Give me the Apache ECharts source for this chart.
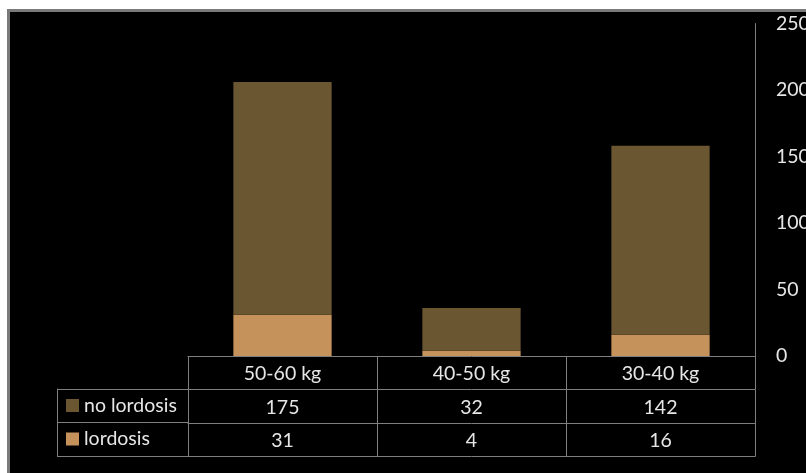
<!DOCTYPE html>
<html>
<head>
<meta charset="utf-8">
<script src="https://cdn.jsdelivr.net/npm/echarts@6/dist/echarts.min.js"></script>
<style>
  html, body { margin: 0; padding: 0; background: #ffffff; overflow: hidden; }
  #frame { position: absolute; left: 7px; top: 9px; width: 820px; height: 480px;
           background: #000; border-left: 3px solid #7a7a7a; border-top: 3px solid #7a7a7a; }
  #chart { position: absolute; left: 0; top: 0; width: 806px; height: 473px; }
</style>
</head>
<body>
<div id="frame"></div>
<div id="chart"></div>
<script>
const categories = ['50-60 kg', '40-50 kg', '30-40 kg'];
const lordosis = [31, 4, 16];
const noLordosis = [175, 32, 142];
const yTicks = { min: 0, max: 250, interval: 50 };

const FONT = 'Lato';
const TXT = '#e6e6e6';
const LINE = '#7f7f7f';
const C_LORD = '#c5925c';
const C_NOLORD = '#6b5632';

const chart = echarts.init(document.getElementById('chart'), null, { renderer: 'canvas' });

const tableAxis = (offset, rowValues, showTick) => ({
  type: 'category', gridIndex: 0, position: 'bottom', offset: offset,
  data: categories,
  axisLine: { show: true, lineStyle: { color: LINE, width: 1 } },
  axisTick: { show: showTick, length: 33.5, alignWithLabel: false, interval: 0, lineStyle: { color: LINE, width: 1 } },
  axisLabel: rowValues ? {
    show: true, interval: 0, margin: 8, color: TXT, fontFamily: FONT, fontSize: 19.5,
    formatter: (v, i) => String(rowValues[i])
  } : { show: false },
  splitLine: { show: false }
});

chart.setOption({
  backgroundColor: 'transparent',
  animation: false,
  textStyle: { fontFamily: FONT },
  grid: [
    { left: 188, right: 51, top: 23.5, bottom: 117, containLabel: false, outerBoundsMode: 'none' },
    { left: 57, top: 389, width: 131, height: 67, containLabel: false, outerBoundsMode: 'none' }
  ],
  legend: {
    orient: 'vertical', left: 61, top: 390.5,
    data: ['no lordosis', 'lordosis'],
    icon: 'rect', itemWidth: 13, itemHeight: 13, itemGap: 13.5,
    textStyle: { color: TXT, fontFamily: FONT, fontSize: 19.5, lineHeight: 20 }
  },
  xAxis: [
    {
      type: 'category', gridIndex: 0, position: 'bottom', data: categories,
      axisLine: { show: true, lineStyle: { color: LINE, width: 1 } },
      axisTick: { show: true, length: 33.5, alignWithLabel: false, interval: 0, lineStyle: { color: LINE, width: 1 } },
      axisLabel: { show: true, interval: 0, margin: 8, color: TXT, fontFamily: FONT, fontSize: 19.5 },
      splitLine: { show: false }
    },
    tableAxis(33.5, noLordosis, true),
    tableAxis(67, lordosis, true),
    tableAxis(100.5, null, false),
    { type: 'value', gridIndex: 1, min: 0, max: 1, show: false }
  ],
  yAxis: [
    {
      type: 'value', gridIndex: 0, position: 'right',
      min: yTicks.min, max: yTicks.max, interval: yTicks.interval,
      axisLine: { show: true, lineStyle: { color: LINE, width: 1 } },
      axisTick: { show: false },
      splitLine: { show: false },
      axisLabel: { show: true, margin: 21, color: TXT, fontFamily: FONT, fontSize: 19.5 }
    },
    {
      type: 'category', gridIndex: 1, data: ['lordosis', 'no lordosis'],
      axisLine: { show: true, lineStyle: { color: LINE, width: 1 } },
      axisTick: { show: false },
      axisLabel: { show: false },
      splitLine: { show: true, interval: 0, lineStyle: { color: LINE, width: 1 } }
    }
  ],
  series: [
    {
      name: 'lordosis', type: 'bar', stack: 'total', xAxisIndex: 0, yAxisIndex: 0,
      data: lordosis, barWidth: '52%',
      itemStyle: { color: C_LORD }
    },
    {
      name: 'no lordosis', type: 'bar', stack: 'total', xAxisIndex: 0, yAxisIndex: 0,
      data: noLordosis, barWidth: '52%',
      itemStyle: { color: C_NOLORD }
    }
  ]
});
</script>
</body>
</html>
